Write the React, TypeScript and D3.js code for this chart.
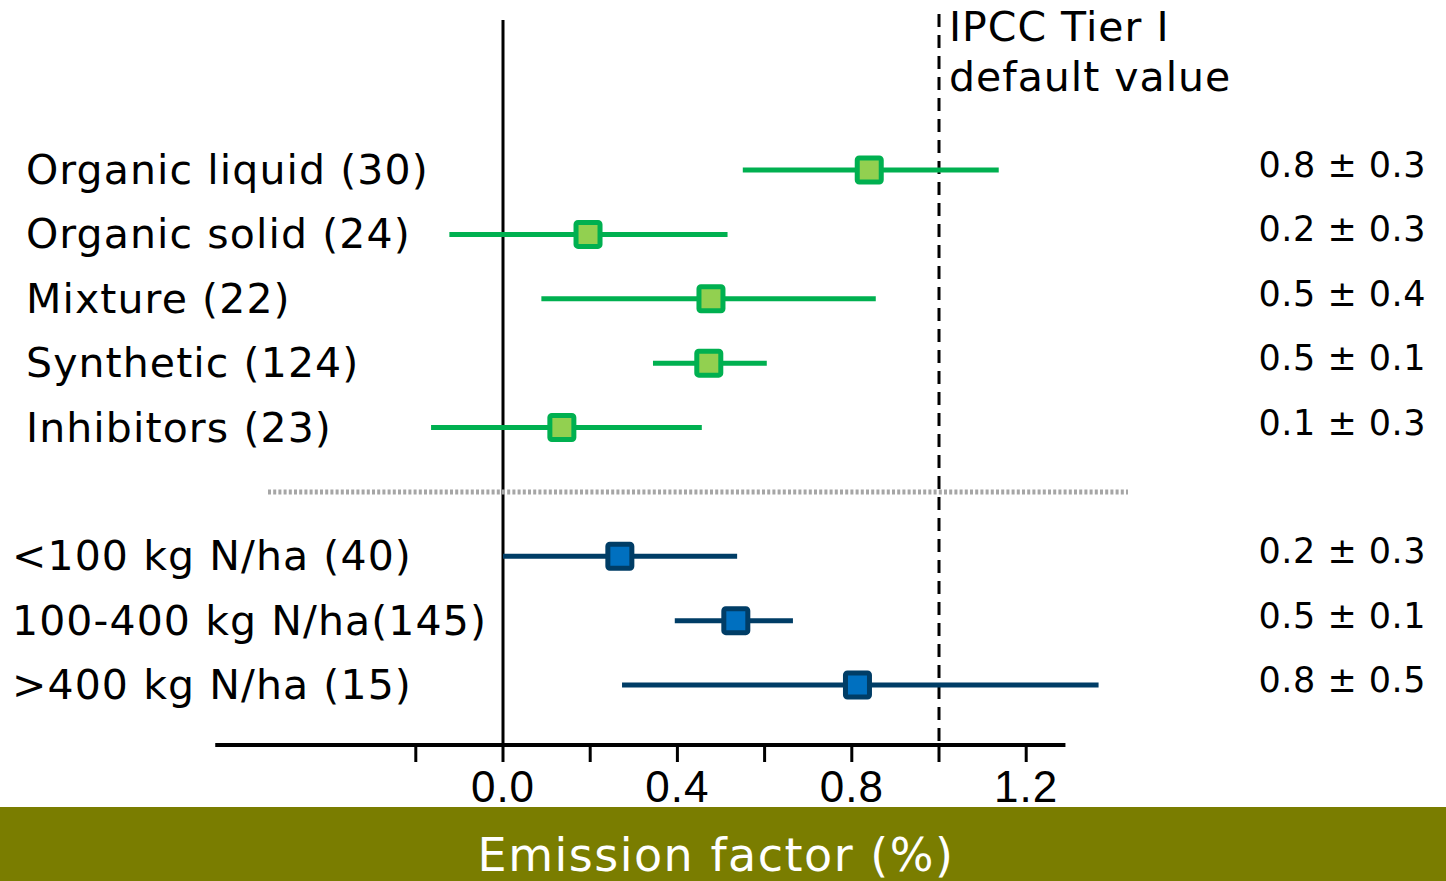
import React from "react";
import * as d3 from "d3";

const rowKeys = ["ol", "os", "mx", "sy", "in", "sep", "lt100", "mid", "gt400"];
const labels = [
  "Organic liquid (30)",
  "Organic solid (24)",
  "Mixture (22)",
  "Synthetic (124)",
  "Inhibitors (23)",
  "<100 kg N/ha (40)",
  "100-400 kg N/ha(145)",
  ">400 kg N/ha (15)",
];
const keys = ["ol", "os", "mx", "sy", "in", "lt100", "mid", "gt400"];
const groups = ["type", "type", "type", "type", "type", "rate", "rate", "rate"];
const means = [0.84, 0.195, 0.477, 0.472, 0.135, 0.268, 0.534, 0.813];
const lows = [0.55, -0.123, 0.088, 0.344, -0.165, 0.0, 0.394, 0.273];
const highs = [1.137, 0.515, 0.855, 0.605, 0.456, 0.537, 0.665, 1.366];
const valueTexts = [
  "0.8 ± 0.3",
  "0.2 ± 0.3",
  "0.5 ± 0.4",
  "0.5 ± 0.1",
  "0.1 ± 0.3",
  "0.2 ± 0.3",
  "0.5 ± 0.1",
  "0.8 ± 0.5",
];
const tickValues = [-0.2, 0, 0.2, 0.4, 0.6, 0.8, 1.0, 1.2];
const tickLabelValues = [0, 0.4, 0.8, 1.2];
const ipccValue = 1.0;
const axisDomain = [-0.66, 1.29];
const xTitle = "Emission factor (%)";
const ipccLines = ["IPCC Tier I", "default value"];

const colors: Record<string, { line: string; fill: string; stroke: string }> = {
  type: { line: "#00b050", fill: "#92d050", stroke: "#00b050" },
  rate: { line: "#003d66", fill: "#0070c0", stroke: "#003d66" },
};

const W = 1446;
const H = 881;
const FONT = "'DejaVu Sans', Verdana, sans-serif";
const NARROW = "'Liberation Sans Narrow', 'Liberation Sans', Arial, sans-serif";

export default function App() {
  const x = d3.scaleLinear().domain([0, 1]).range([503, 939]);
  const y = d3.scalePoint<string>().domain(rowKeys).range([170, 685]);
  const axisY = 745;
  const sq = 24;

  return (
    <svg
      width={W}
      height={H}
      style={{ position: "absolute", left: 0, top: 0, background: "#fff" }}
    >
      {/* zero line */}
      <line x1={x(0)} x2={x(0)} y1={20} y2={axisY} stroke="#000" strokeWidth={3} />
      {/* IPCC dashed line */}
      <line
        x1={x(ipccValue)}
        x2={x(ipccValue)}
        y1={14}
        y2={axisY}
        stroke="#000"
        strokeWidth={3}
        strokeDasharray="13,8"
      />
      {ipccLines.map((t, i) => (
        <text
          key={t}
          x={x(ipccValue) + 10}
          y={27 + i * 50}
          dominantBaseline="central"
          fontFamily={FONT}
          fontSize={41}
          letterSpacing={1}
          fill="#000"
        >
          {t}
        </text>
      ))}
      {/* separator */}
      <line
        x1={268}
        x2={1128}
        y1={y("sep")!}
        y2={y("sep")!}
        stroke="#a6a6a6"
        strokeWidth={5}
        strokeDasharray="3,2.2"
      />
      {/* axis */}
      <line
        x1={x(axisDomain[0])}
        x2={x(axisDomain[1])}
        y1={axisY}
        y2={axisY}
        stroke="#000"
        strokeWidth={4}
      />
      {tickValues.map((v) => (
        <line
          key={v}
          x1={x(v)}
          x2={x(v)}
          y1={axisY}
          y2={axisY + 17}
          stroke="#000"
          strokeWidth={3}
        />
      ))}
      {tickLabelValues.map((v) => (
        <text
          key={v}
          x={x(v)}
          y={786}
          textAnchor="middle"
          dominantBaseline="central"
          fontFamily={NARROW}
          fontSize={44}
          letterSpacing={1}
          fill="#000"
        >
          {d3.format(".1f")(v)}
        </text>
      ))}
      {/* rows */}
      {keys.map((k, i) => {
        const c = colors[groups[i]];
        const yy = y(k)!;
        return (
          <g key={k}>
            <line
              x1={x(lows[i])}
              x2={x(highs[i])}
              y1={yy}
              y2={yy}
              stroke={c.line}
              strokeWidth={5}
            />
            <rect
              x={x(means[i]) - sq / 2}
              y={yy - sq / 2}
              width={sq}
              height={sq}
              rx={2}
              fill={c.fill}
              stroke={c.stroke}
              strokeWidth={5}
            />
            <text
              x={groups[i] === "type" ? 26 : 12}
              y={yy}
              dominantBaseline="central"
              fontFamily={FONT}
              fontSize={41}
              letterSpacing={1.1}
              fill="#000"
            >
              {labels[i]}
            </text>
            <text
              x={1426}
              y={yy - 5}
              textAnchor="end"
              dominantBaseline="central"
              fontFamily={FONT}
              fontSize={35}
              letterSpacing={0.5}
              fill="#000"
            >
              {valueTexts[i]}
            </text>
          </g>
        );
      })}
      {/* bottom band */}
      <rect x={0} y={807} width={W} height={H - 807} fill="#7a7d00" />
      <text
        x={716}
        y={855}
        textAnchor="middle"
        dominantBaseline="central"
        fontFamily={FONT}
        fontSize={46}
        letterSpacing={1.5}
        fill="#fff"
      >
        {xTitle}
      </text>
    </svg>
  );
}
